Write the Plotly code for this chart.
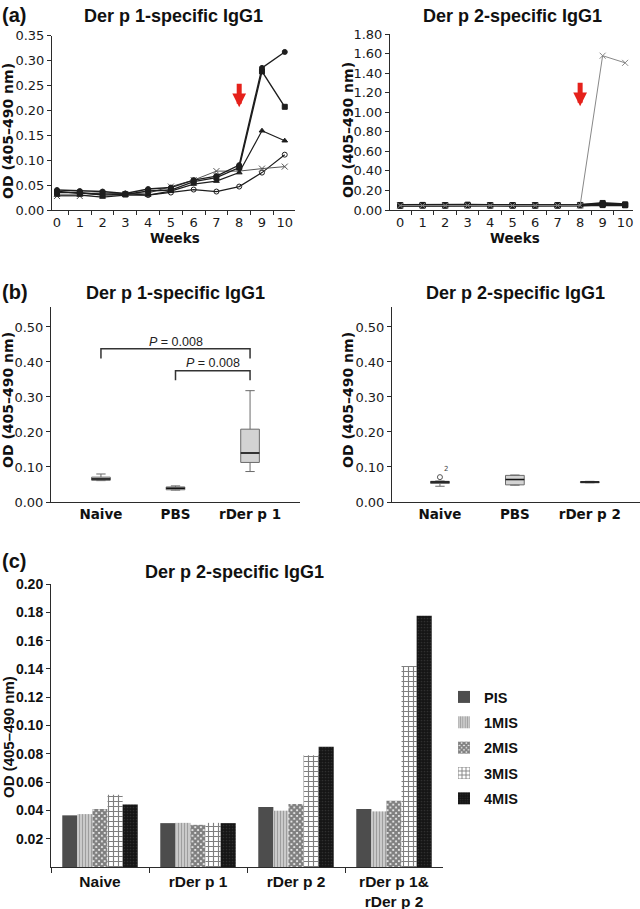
import plotly.graph_objects as go

W, H = 640, 909
def px(x): return x / W
def py(y): return 1 - y / H

# ---------------- data ----------------
weeks = [str(i) for i in range(11)]

# (a) Der p 1-specific IgG1 time course (5 mice)
p1_circle = [0.040, 0.038, 0.037, 0.033, 0.042, 0.045, 0.060, 0.068, 0.090, 0.285, 0.317]
p1_square = [0.035, 0.035, 0.030, 0.031, 0.038, 0.040, 0.057, 0.065, 0.085, 0.278, 0.207]
p1_tri    = [0.030, 0.030, 0.026, 0.030, 0.030, 0.038, 0.052, 0.058, 0.075, 0.159, 0.139]
p1_ocirc  = [0.038, 0.033, 0.034, 0.033, 0.030, 0.035, 0.041, 0.037, 0.047, 0.075, 0.111]
p1_x      = [0.028, 0.028, 0.033, 0.032, 0.034, 0.047, 0.060, 0.078, 0.078, 0.083, 0.087]

# (a) Der p 2-specific IgG1 time course
p2_s1 = [0.050, 0.052, 0.050, 0.054, 0.050, 0.050, 0.050, 0.050, 0.052, 0.072, 0.058]
p2_s2 = [0.046, 0.048, 0.047, 0.050, 0.048, 0.047, 0.048, 0.048, 0.050, 0.062, 0.052]
p2_s3 = [0.044, 0.045, 0.045, 0.046, 0.045, 0.045, 0.044, 0.045, 0.047, 0.055, 0.050]
p2_s4 = [0.048, 0.050, 0.049, 0.052, 0.050, 0.049, 0.050, 0.049, 0.050, 0.050, 0.049]
p2_x  = [0.045, 0.046, 0.045, 0.047, 0.046, 0.046, 0.045, 0.046, 0.047, 1.578, 1.505]

arrow_week = 8

# (b) box plots
b1_cats = ["Naive", "PBS", "rDer p 1"]
b1_lo  = [0.061, 0.034, 0.087]
b1_q1  = [0.062, 0.035, 0.113]
b1_med = [0.066, 0.039, 0.140]
b1_q3  = [0.071, 0.043, 0.208]
b1_hi  = [0.080, 0.046, 0.318]
p_values = ["0.008", "0.008"]

b2_cats = ["Naive", "PBS", "rDer p 2"]
b2_lo  = [0.045, 0.048, 0.055]
b2_q1  = [0.053, 0.049, 0.055]
b2_med = [0.057, 0.064, 0.057]
b2_q3  = [0.059, 0.076, 0.058]
b2_hi  = [0.060, 0.077, 0.059]
b2_outlier_y = [0.071]
b2_outlier_label = ["2"]

# (c) grouped bars
c_cats = ["Naive", "rDer p 1", "rDer p 2", "rDer p 1&<br>rDer p 2"]
c_series = ["PIS", "1MIS", "2MIS", "3MIS", "4MIS"]
c_pis  = [0.0365, 0.0310, 0.0424, 0.0410]
c_1mis = [0.0374, 0.0312, 0.0398, 0.0393]
c_2mis = [0.0410, 0.0298, 0.0445, 0.0468]
c_3mis = [0.0510, 0.0312, 0.0790, 0.1420]
c_4mis = [0.0442, 0.0310, 0.0850, 0.1776]

# ---------------- figure ----------------
fig = go.Figure()
DJ = "DejaVu Sans"
AR = "Liberation Sans, Arial"
LINE_C = "#2b2b2b"

def line_tr(y, sym, xa, ya, color="#1e1e1e", width=1.2, size=5):
    return go.Scatter(x=weeks, y=y, mode="lines+markers", xaxis=xa, yaxis=ya,
                      line=dict(color=color, width=width),
                      marker=dict(symbol=sym, size=size, color=color,
                                  line=dict(color=color, width=1)),
                      showlegend=False)

fig.add_trace(line_tr(p1_ocirc, "circle-open", "x", "y", size=5))
fig.add_trace(line_tr(p1_x, "x-thin-open", "x", "y", color="#555", width=1, size=6))
fig.add_trace(line_tr(p1_tri, "triangle-up", "x", "y", size=5))
fig.add_trace(line_tr(p1_square, "square", "x", "y", width=1.4, size=5))
fig.add_trace(line_tr(p1_circle, "circle", "x", "y", width=1.4, size=5))

for s in [p2_s1, p2_s2, p2_s3, p2_s4]:
    fig.add_trace(line_tr(s, "square", "x2", "y2", width=2, size=5))
fig.add_trace(line_tr(p2_x, "x-thin-open", "x2", "y2", color="#888", width=1, size=6))

# boxes
box_style = dict(fillcolor="#d3d3d3", line=dict(color="#6a6a6a", width=1),
                 boxpoints=False, whiskerwidth=0.5, width=0.25, showlegend=False)
med_style = dict(fillcolor="rgba(0,0,0,0)", line=dict(color="#111111", width=1.5),
                 boxpoints=False, whiskerwidth=0, width=0.25, showlegend=False)
for cats, lo, q1, med, q3, hi, xa, ya in [
        (b1_cats, b1_lo, b1_q1, b1_med, b1_q3, b1_hi, "x3", "y3"),
        (b2_cats, b2_lo, b2_q1, b2_med, b2_q3, b2_hi, "x4", "y4")]:
    fig.add_trace(go.Box(x=cats, q1=q1, median=med, q3=q3, lowerfence=lo, upperfence=hi,
                         xaxis=xa, yaxis=ya, **box_style))
    # median drawn again in black
    fig.add_trace(go.Box(x=cats, q1=med, median=med, q3=med, lowerfence=med, upperfence=med,
                         xaxis=xa, yaxis=ya, **med_style))

fig.add_trace(go.Scatter(x=[b2_cats[0]], y=b2_outlier_y, mode="markers+text",
                         text=b2_outlier_label, textposition="top right",
                         textfont=dict(size=7, color="#444", family=DJ),
                         marker=dict(symbol="circle-open", size=5, color="#555"),
                         xaxis="x4", yaxis="y4", showlegend=False))

# bars
patterns = [
    dict(marker_color="#4d4d4d", pattern=None),
    dict(marker_color="#c8c8c8", pattern=dict(shape="|", fgcolor="#6a6a6a", bgcolor="#d2d2d2", size=3, solidity=0.45)),
    dict(marker_color="#ffffff", pattern=dict(shape="x", fgcolor="#000000", bgcolor="#ffffff", size=4, solidity=0.8)),
    dict(marker_color="#ffffff", pattern=dict(shape="+", fgcolor="#000000", bgcolor="#ffffff", size=5, solidity=0.4)),
    dict(marker_color="#151515", pattern=dict(shape=".", fgcolor="#4a4a4a", bgcolor="#151515", size=3, solidity=0.25)),
]
for i, (name, vals, pst) in enumerate(zip(c_series, [c_pis, c_1mis, c_2mis, c_3mis, c_4mis], patterns)):
    mk = dict(color=pst["marker_color"], line=dict(width=0))
    if pst["pattern"] is not None:
        mk["pattern"] = pst["pattern"]
    fig.add_trace(go.Bar(x=c_cats, y=vals, name=name, marker=mk, legendgroup=f"g{i}",
                         xaxis="x5", yaxis="y5", showlegend=True))

# ---------------- axes ----------------
tickfont = dict(family=DJ, size=13, color="#1a1a1a")
common_y = dict(showgrid=False, zeroline=False, showline=True, linecolor=LINE_C, linewidth=1,
                ticks="outside", ticklen=4, tickcolor=LINE_C, tickfont=tickfont, tickformat=".2f",
                automargin=False)
common_x = dict(showgrid=False, zeroline=False, showline=True, linecolor=LINE_C, linewidth=1,
                tickfont=tickfont, automargin=False)
box_x = dict(ticks="", showline=True, linecolor=LINE_C, showgrid=False, zeroline=False,
             automargin=False, tickfont=dict(family=DJ, size=13.5, color="#111", weight="bold"))

layout_axes = dict(
    xaxis=dict(domain=[px(52), px(295)], anchor="y", type="category", range=[-0.22, 10.45],
               ticks="outside", ticklen=4, tickcolor=LINE_C, tickson="boundaries", **common_x),
    yaxis=dict(domain=[py(210), py(35.5)], anchor="x", range=[0, 0.35], dtick=0.05, **common_y),
    xaxis2=dict(domain=[px(390), px(633)], anchor="y2", type="category", range=[-0.45, 10.35],
                ticks="outside", ticklen=4, tickcolor=LINE_C, tickson="boundaries", **common_x),
    yaxis2=dict(domain=[py(210), py(34)], anchor="x2", range=[0, 1.8], dtick=0.2, **common_y),
    xaxis3=dict(domain=[px(51), px(300)], anchor="y3", type="category", range=[-0.67, 2.67], **box_x),
    yaxis3=dict(domain=[py(502), py(307)], anchor="x3", range=[0, 0.557],
                tickvals=[0, 0.1, 0.2, 0.3, 0.4, 0.5], **common_y),
    xaxis4=dict(domain=[px(392), px(640)], anchor="y4", type="category", range=[-0.64, 2.67], **box_x),
    yaxis4=dict(domain=[py(502), py(307)], anchor="x4", range=[0, 0.557],
                tickvals=[0, 0.1, 0.2, 0.3, 0.4, 0.5], **common_y),
    xaxis5=dict(domain=[px(51), px(443)], anchor="y5", type="category", range=[-0.5, 3.5],
                ticks="outside", ticklen=5, tickcolor=LINE_C, tickson="boundaries",
                showline=True, linecolor=LINE_C, showgrid=False, zeroline=False, automargin=False,
                tickfont=dict(family=AR, size=15.5, color="#111", weight="bold")),
    yaxis5=dict(domain=[py(867), py(584)], anchor="x5", range=[0, 0.20],
                tickvals=[0.02, 0.04, 0.06, 0.08, 0.10, 0.12, 0.14, 0.16, 0.18, 0.20],
                showgrid=False, zeroline=False, showline=True, linecolor=LINE_C, linewidth=1,
                ticks="outside", ticklen=4, tickcolor=LINE_C, tickformat=".2f", automargin=False,
                tickfont=dict(family=AR, size=14, color="#111", weight="bold")),
)

# ---------------- annotations ----------------
ann = []
def txt(x, y, s, size, family=AR, bold=True, xanchor="center", angle=0, color="#111"):
    ann.append(dict(x=px(x), y=py(y), xref="paper", yref="paper", text=s, showarrow=False,
                    xanchor=xanchor, yanchor="middle", textangle=angle,
                    font=dict(family=family, size=size, color=color,
                              weight="bold" if bold else "normal")))

txt(0, 15, "(a)", 20, xanchor="left")
txt(0, 292, "(b)", 20, xanchor="left")
txt(0, 561, "(c)", 20, xanchor="left")
txt(173, 16, "Der p 1-specific IgG1", 18)
txt(512, 16, "Der p 2-specific IgG1", 18)
txt(175, 293, "Der p 1-specific IgG1", 18)
txt(515, 293, "Der p 2-specific IgG1", 18)
txt(234, 572, "Der p 2-specific IgG1", 18)
txt(175, 238, "Weeks", 13.5, family=DJ)
txt(515, 238, "Weeks", 13.5, family=DJ)
ytitle = "OD (405\u2013490 nm)"
txt(8, 131, ytitle, 14, family=DJ, angle=-90)
txt(348, 130, ytitle, 14, family=DJ, angle=-90)
txt(8, 400, ytitle, 14, family=DJ, angle=-90)
txt(348, 400, ytitle, 14, family=DJ, angle=-90)
txt(8, 737, ytitle, 15, family=AR, angle=-90)

# red arrows at the boost week
for xa, ya, tip in [("x", "y", 0.206), ("x2", "y2", 1.06)]:
    ann.append(dict(x=arrow_week, y=tip, xref=xa, yref=ya, ax=0, ay=-25, showarrow=True,
                    arrowhead=2, arrowsize=0.55, arrowwidth=5, arrowcolor="#e5211b", text=""))

# P-value brackets
shapes = []
brackets = [(0, 2, 0.438, 0.410, 0.458), (1, 2, 0.375, 0.348, 0.397)]
for (i0, i1, ytop, ybot, ytxt), pv in zip(brackets, p_values):
    shapes.append(dict(type="path", xref="x3", yref="y3",
                       path=f"M {i0},{ybot} L {i0},{ytop} L {i1},{ytop} L {i1},{ybot}",
                       line=dict(color="#333", width=1.5)))
    ann.append(dict(x=(i0 + i1) / 2, y=ytxt, xref="x3", yref="y3", showarrow=False,
                    text=f"<i>P</i> = {pv}", font=dict(family=AR, size=12.5, color="#222")))

fig.update_layout(
    width=W, height=H, autosize=False,
    margin=dict(l=0, r=0, t=0, b=0),
    paper_bgcolor="white", plot_bgcolor="white",
    barmode="group", bargap=0.23, bargroupgap=0, boxmode="overlay",
    annotations=ann, shapes=shapes,
    legend=dict(x=px(444), y=py(681), xanchor="left", yanchor="top",
                font=dict(family=AR, size=14.5, color="#111", weight="bold"),
                bgcolor="rgba(0,0,0,0)", itemwidth=30, tracegroupgap=3.5,
                traceorder="grouped"),
    **layout_axes,
)

fig.write_html("out.html", config={"displayModeBar": False},
               post_script="document.body.style.margin='0';document.body.style.padding='0';")
